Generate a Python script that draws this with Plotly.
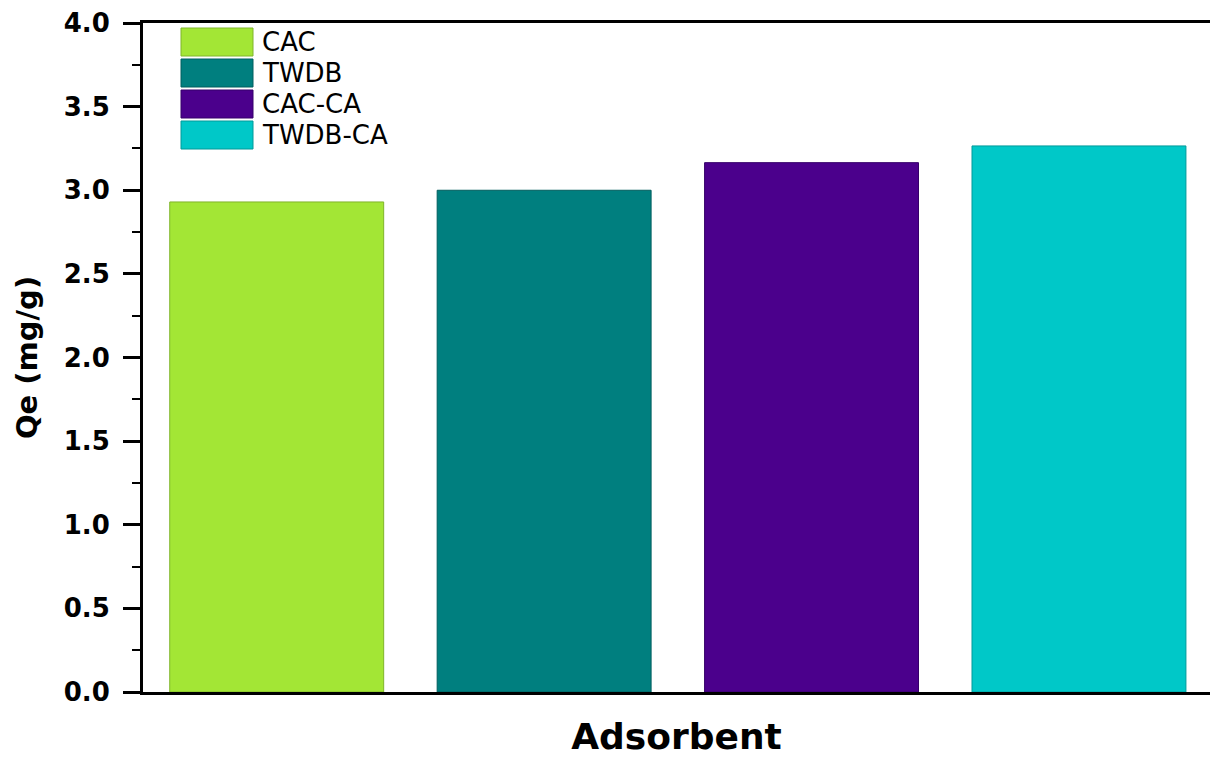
import plotly.graph_objects as go

# Adsorption capacity per adsorbent
adsorbents = ["CAC", "TWDB", "CAC-CA", "TWDB-CA"]
qe_values = [2.93, 3.00, 3.165, 3.265]
fill_colors = ["#A3E635", "#007F7F", "#4B008C", "#00C8C8"]
edge_colors = ["#7FB52A", "#005E5E", "#36006A", "#009A9A"]
y_ticks = [0.0, 0.5, 1.0, 1.5, 2.0, 2.5, 3.0, 3.5, 4.0]

W, H = 1210, 758
L, R, T, B = 143, 0, 23, 66
plot_w = W - L - R
plot_h = H - T - B

fig = go.Figure()
for name, val, fc, ec in zip(adsorbents, qe_values, fill_colors, edge_colors):
    fig.add_trace(go.Bar(
        x=[name], y=[val], name=name, width=0.8,
        marker=dict(color=fc, line=dict(color=ec, width=1)),
        showlegend=False,
    ))


def px_x(p):
    return (p - L) / plot_w


def px_y(p):
    return 1 - (p - T) / plot_h


# Legend drawn as large swatches with labels
shapes = []
annotations = []
sw_left, sw_right, sw_h, row_top0, row_step = 181, 253, 28, 28, 31
for i, (name, fc, ec) in enumerate(zip(adsorbents, fill_colors, edge_colors)):
    top = row_top0 + i * row_step
    shapes.append(dict(
        type="rect", xref="paper", yref="paper",
        x0=px_x(sw_left), x1=px_x(sw_right),
        y0=px_y(top + sw_h), y1=px_y(top),
        fillcolor=fc, line=dict(color=ec, width=1),
    ))
    annotations.append(dict(
        xref="paper", yref="paper", x=px_x(261), y=px_y(top + sw_h / 2),
        text=name, showarrow=False, xanchor="left", yanchor="middle",
        borderpad=0,
        font=dict(family="DejaVu Sans", size=26, color="black"),
    ))

fig.update_layout(
    width=W, height=H,
    margin=dict(l=L, r=R, t=T, b=B),
    paper_bgcolor="white", plot_bgcolor="white",
    barmode="overlay",
    shapes=shapes, annotations=annotations,
    xaxis=dict(
        type="category", categoryorder="array", categoryarray=adsorbents,
        range=[-0.5, 3.49], showticklabels=False, ticks="",
        showline=True, linecolor="black", linewidth=3, mirror=True,
        showgrid=False, zeroline=False,
        title=dict(text="<b>Adsorbent</b>", standoff=30,
                   font=dict(family="DejaVu Sans", size=36, color="black")),
    ),
    yaxis=dict(
        range=[0, 4.0], tickvals=y_ticks,
        ticktext=[f"<b>{v:.1f}</b>" for v in y_ticks],
        ticks="outside", ticklen=17, tickwidth=3, tickcolor="black",
        ticklabelstandoff=8,
        minor=dict(ticks="outside", ticklen=8, tickwidth=2, tickcolor="black",
                   dtick=0.25, showgrid=False),
        showline=True, linecolor="black", linewidth=3, mirror=False,
        showgrid=False, zeroline=False,
        tickfont=dict(family="DejaVu Sans", size=26, color="black"),
        title=dict(text="<b>Qe (mg/g)</b>", standoff=18,
                   font=dict(family="DejaVu Sans", size=29, color="black")),
    ),
)

fig.write_html("out.html")
